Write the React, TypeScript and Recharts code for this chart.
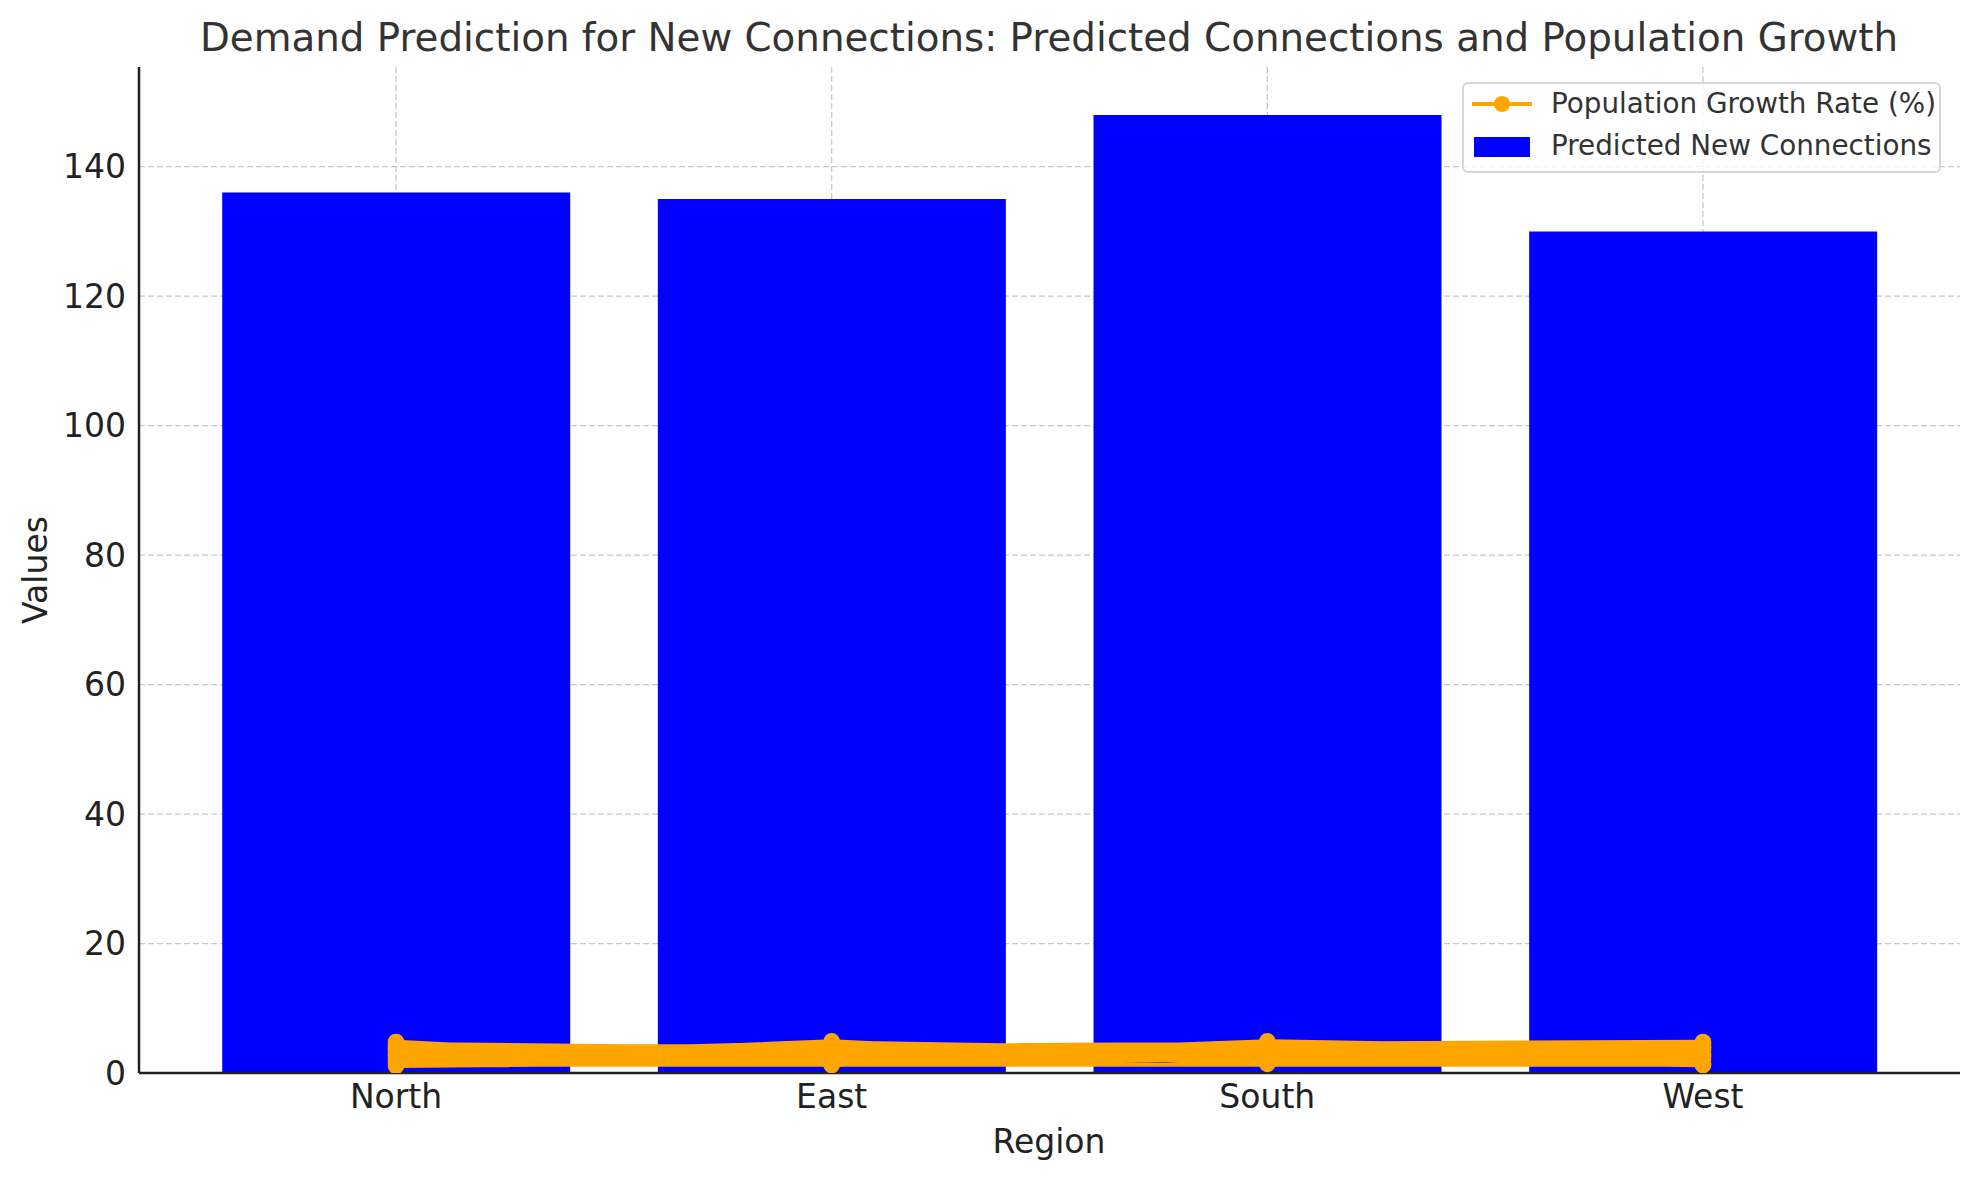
import React from 'react';
import { ComposedChart, Bar, Line, XAxis, YAxis, CartesianGrid } from 'recharts';

const regions = ['North', 'East', 'South', 'West'];
const predictedConnections = [136, 135, 148, 130];
const yTicks = [0, 20, 40, 60, 80, 100, 120, 140];
const xTicks = [0, 1, 2, 3];

// Population growth rate (%) rows, in the order they appear (region cycles North, East, South, West)
const growthRates = [
  4.8, 1.5, 3.2, 2.6,
  2.1, 4.9, 1.6, 4.4,
  3.5, 2.8, 4.7, 1.3,
  1.3, 3.6, 2.5, 3.9,
  4.2, 1.2, 3.8, 2.0,
  2.7, 4.1, 1.4, 4.8,
  3.9, 2.2, 4.3, 3.0,
  1.8, 3.3, 2.9, 1.5,
  3.1, 4.5, 1.7, 4.6,
  2.4, 1.9, 3.5, 2.3,
  4.5, 2.6, 1.9, 3.4,
  1.6, 3.9, 4.5, 1.2,
  3.7, 1.4, 2.2, 4.1,
  2.9, 4.7, 3.6, 2.8,
  1.1, 2.4, 4.9, 3.7,
];
const growthRegions = growthRates.map((_, i) => regions[i % regions.length]);

const barData = regions.map((r, i) => ({ x: i, region: r, connections: predictedConnections[i] }));
const lineData = growthRates.map((v, i) => ({ x: regions.indexOf(growthRegions[i]), rate: v }));

const W = 1979;
const H = 1180;
const FONT = '"DejaVu Sans", sans-serif';

const LegendBox = () => (
  <div
    style={{
      position: 'absolute',
      left: 1462,
      top: 82,
      width: 479,
      height: 91,
      border: '2px solid #d6d6d6',
      borderRadius: 6,
      background: 'rgba(255,255,255,0.8)',
      boxSizing: 'border-box',
      fontFamily: FONT,
      fontSize: 27.8,
      color: '#333',
    }}
  >
    <svg width={80} height={89} style={{ position: 'absolute', left: 0, top: 0 }}>
      <line x1={8} x2={68} y1={20} y2={20} stroke="#FFA500" strokeWidth={4} />
      <circle cx={38} cy={20} r={8} fill="#FFA500" />
      <rect x={10} y={53} width={56} height={20} fill="#0000FF" />
    </svg>
    <div style={{ position: 'absolute', left: 87, top: 3, lineHeight: '34px', whiteSpace: 'nowrap' }}>
      Population Growth Rate (%)
    </div>
    <div style={{ position: 'absolute', left: 87, top: 45, lineHeight: '34px', whiteSpace: 'nowrap' }}>
      Predicted New Connections
    </div>
  </div>
);

export default function App() {
  return (
    <div style={{ position: 'absolute', left: 0, top: 0, width: W, height: H, background: '#fff' }}>
      <ComposedChart
        width={W}
        height={H}
        data={barData}
        margin={{ top: 67, right: 19, bottom: 47, left: 39 }}
        style={{ fontFamily: FONT }}
      >
        <CartesianGrid
          stroke="#c8c8c8"
          strokeDasharray="6 3"
          strokeWidth={1.3}
          horizontalValues={yTicks}
          verticalValues={xTicks}
        />
        <XAxis
          dataKey="x"
          type="number"
          domain={[-0.59, 3.59]}
          ticks={xTicks}
          allowDataOverflow
          tickFormatter={(v: number) => regions[v] ?? ''}
          tick={{ fill: '#222', fontSize: 33, fontFamily: FONT }}
          tickSize={0}
          tickMargin={12}
          axisLine={{ stroke: '#222', strokeWidth: 2.5 }}
          tickLine={false}
          height={60}
        />
        <YAxis
          type="number"
          domain={[0, 155.4]}
          ticks={yTicks}
          allowDataOverflow
          tick={{ fill: '#222', fontSize: 33, fontFamily: FONT }}
          tickSize={0}
          tickMargin={13}
          axisLine={{ stroke: '#222', strokeWidth: 2.5 }}
          tickLine={false}
          width={100}
        />
        <Bar
          dataKey="connections"
          name="Predicted New Connections"
          fill="#0000FF"
          barSize={348}
          isAnimationActive={false}
        />
        <Line
          data={lineData}
          dataKey="rate"
          name="Population Growth Rate (%)"
          type="linear"
          stroke="#FFA500"
          strokeWidth={4.2}
          dot={{ r: 8.3, fill: '#FFA500', stroke: '#FFA500', strokeWidth: 0 }}
          activeDot={false}
          isAnimationActive={false}
        />
      </ComposedChart>
      <LegendBox />
      <svg width={W} height={H} style={{ position: 'absolute', left: 0, top: 0, pointerEvents: 'none' }}>
        <text x={1049} y={51} textAnchor="middle" fontFamily={FONT} fontSize={38.8} fill="#333">
          Demand Prediction for New Connections: Predicted Connections and Population Growth
        </text>
        <text x={1049} y={1153} textAnchor="middle" fontFamily={FONT} fontSize={33} fill="#222">
          Region
        </text>
        <text
          x={47}
          y={570}
          textAnchor="middle"
          fontFamily={FONT}
          fontSize={33}
          fill="#222"
          transform="rotate(-90 47 570)"
        >
          Values
        </text>
      </svg>
    </div>
  );
}
